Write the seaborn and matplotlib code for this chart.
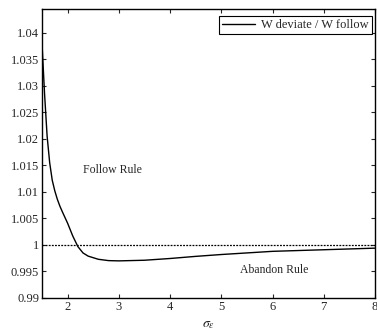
import matplotlib
matplotlib.use("Agg")
import matplotlib.pyplot as plt
import seaborn as sns
import pandas as pd

sigma = [1.5, 1.55, 1.6, 1.65, 1.7, 1.75, 1.8, 1.85, 1.9, 2.0, 2.1, 2.2, 2.3, 2.4, 2.6, 2.8, 3.0,
         3.5, 4.0, 4.5, 5.0, 5.5, 6.0, 6.5, 7.0, 7.5, 8.0]
ratio = [1.038, 1.0285, 1.0205, 1.0155, 1.0122, 1.0102, 1.0086, 1.0073, 1.0062, 1.0041, 1.0017,
         0.9997, 0.9985, 0.9979, 0.9973, 0.99705, 0.9970, 0.99712, 0.99745, 0.99785, 0.9982,
         0.9985, 0.9988, 0.99895, 0.9991, 0.99925, 0.9994]
yticks = [0.99, 0.995, 1.0, 1.005, 1.01, 1.015, 1.02, 1.025, 1.03, 1.035, 1.04]
ytick_labels = ["0.99", "0.995", "1", "1.005", "1.01", "1.015", "1.02", "1.025", "1.03", "1.035", "1.04"]
xticks = [2, 3, 4, 5, 6, 7, 8]

sns.set_style("ticks")
plt.rcParams['font.family'] = ['Liberation Serif', 'DejaVu Serif']
plt.rcParams['mathtext.fontset'] = 'stix'

df = pd.DataFrame({"sigma": sigma, "ratio": ratio})

fig = plt.figure(figsize=(3.77, 3.30), dpi=100)
ax = fig.add_axes([42/377, 1 - 298/330, (375-42)/377, (298-9)/330])

sns.lineplot(data=df, x="sigma", y="ratio", ax=ax, color="black", linewidth=1.0,
             label="W deviate / W follow")
ax.axhline(1.0, color="black", linestyle=(0, (1.5, 1)), linewidth=0.9)

ax.set_xlim(1.5, 8)
ax.set_ylim(0.99, 1.0445)
ax.set_xticks(xticks)
ax.set_xticklabels([str(t) for t in xticks], fontsize=9)
ax.set_yticks(yticks)
ax.set_yticklabels(ytick_labels, fontsize=9)
ax.tick_params(direction="in", top=True, right=True, length=3, width=0.8, pad=2)
for s in ax.spines.values():
    s.set_linewidth(1.0)
    s.set_color("black")

ax.set_xlabel(r"$\sigma_\epsilon$", fontsize=10, labelpad=4)
ax.set_ylabel("")

ax.text(2.87, 1.0142, "Follow Rule", fontsize=8.5, ha="center", va="center")
ax.text(6.04, 0.9953, "Abandon Rule", fontsize=8.5, ha="center", va="center")

leg = ax.legend(loc="upper right", bbox_to_anchor=(0.99, 0.975), fontsize=9, frameon=True,
                fancybox=False, edgecolor="black", framealpha=1, handlelength=2.6,
                borderpad=0.25, handletextpad=0.5, borderaxespad=0)
leg.get_frame().set_linewidth(0.8)

fig.savefig("out.png", dpi=100)
